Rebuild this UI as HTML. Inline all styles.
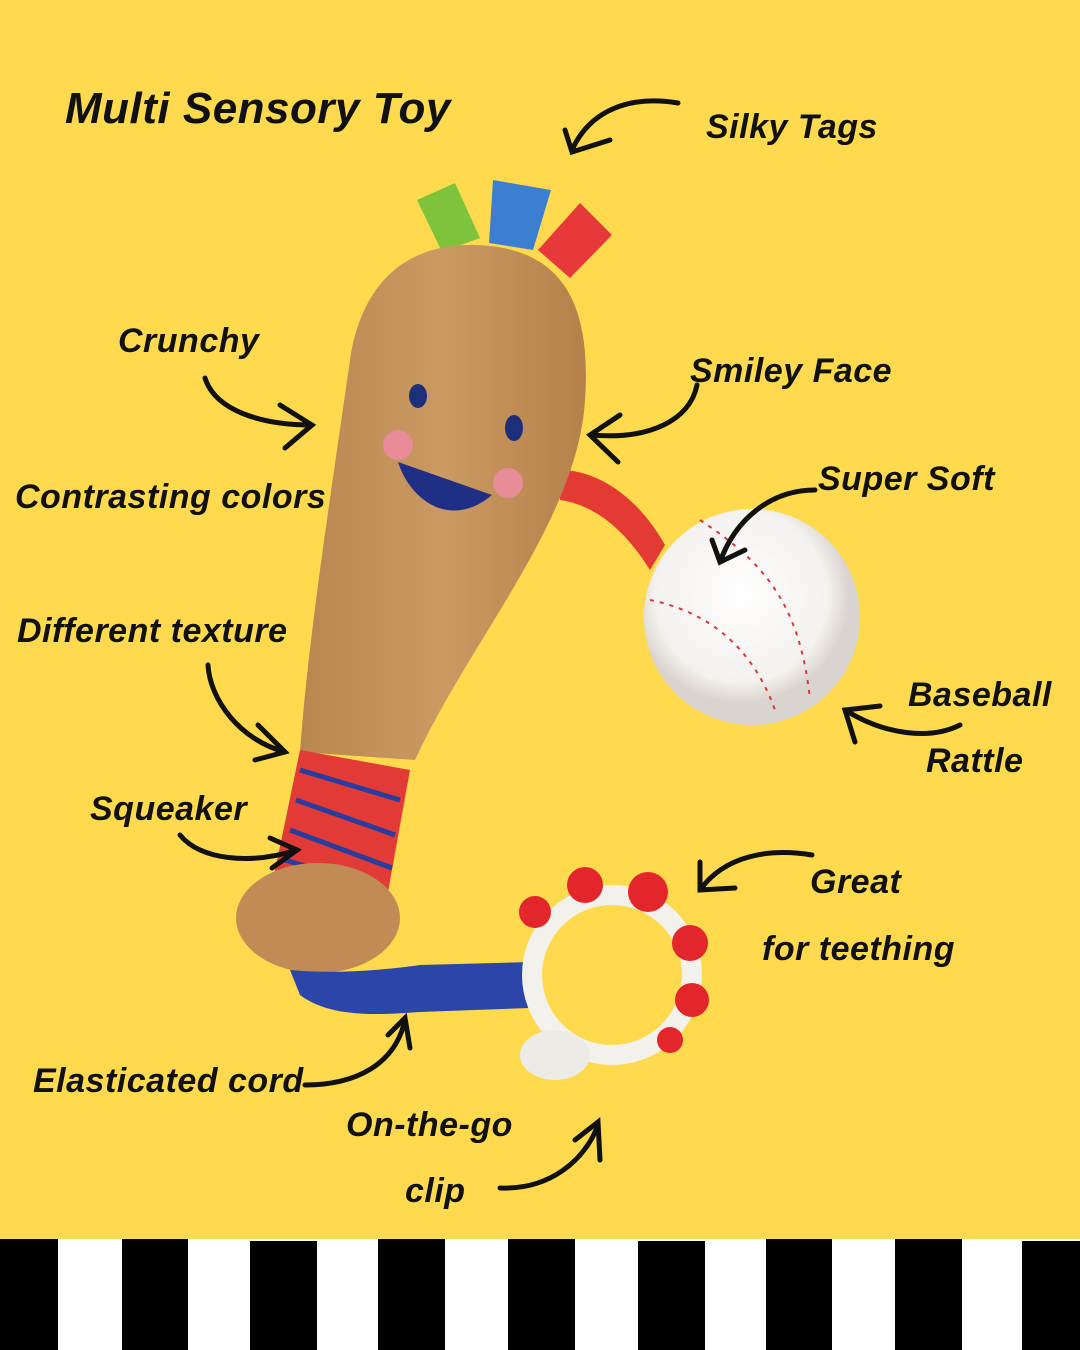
<!DOCTYPE html>
<html><head><meta charset="utf-8"><style>
body{margin:0}
#c{position:relative;width:1080px;height:1350px;background:#FFDA4F;overflow:hidden;font-family:"Liberation Sans",sans-serif}
.t{position:absolute;font-weight:bold;color:#111;font-style:italic;white-space:nowrap;letter-spacing:0.5px}
</style></head><body><div id="c">
<svg width="1080" height="1350" style="position:absolute;left:0;top:0">
<defs>
<linearGradient id="bat" x1="0" x2="1"><stop offset="0" stop-color="#B98650"/><stop offset="0.5" stop-color="#CB9A63"/><stop offset="1" stop-color="#B58049"/></linearGradient>
<radialGradient id="ball" cx="0.45" cy="0.4"><stop offset="0" stop-color="#fff"/><stop offset="0.8" stop-color="#f4f1ee"/><stop offset="1" stop-color="#d9d4cf"/></radialGradient>
<marker id="ah" markerWidth="10" markerHeight="10" refX="5" refY="5" orient="auto"><path d="M0,0 L8,5 L0,10" fill="none" stroke="#111" stroke-width="2"/></marker>
</defs>
<!-- tags -->
<path d="M417,200 L455,183 L480,238 L442,252Z" fill="#7DC43B"/>
<path d="M493,180 L551,190 L533,250 L489,243Z" fill="#3C7FD0"/>
<path d="M538,250 L580,203 L612,235 L570,278Z" fill="#E8393A"/>
<!-- elastic red -->
<path d="M560,470 C600,470 640,500 665,545 L650,570 C625,530 595,505 560,500Z" fill="#E33A33"/>
<!-- ball -->
<circle cx="752" cy="617" r="108" fill="url(#ball)"/>
<path d="M700,520 C760,560 800,600 810,700" fill="none" stroke="#D8383A" stroke-width="2" stroke-dasharray="4 6"/>
<path d="M650,600 C700,610 750,640 775,710" fill="none" stroke="#D8383A" stroke-width="2" stroke-dasharray="4 6"/>
<!-- bat -->
<path d="M470,245 C560,245 592,300 585,400 C578,520 470,640 415,760 L300,752 C308,640 330,500 350,360 C360,290 400,245 470,245Z" fill="url(#bat)"/>
<path d="M300,750 L410,770 L388,892 L272,885Z" fill="#E23A36"/>
<path d="M300,770 L400,800 M296,800 L395,835 M290,830 L392,868 M285,860 L385,890" stroke="#2A3C9E" stroke-width="5"/>
<ellipse cx="318" cy="918" rx="82" ry="55" fill="#C08B55"/>
<!-- face -->
<ellipse cx="418" cy="396" rx="9" ry="12" fill="#1C2F7A"/>
<ellipse cx="514" cy="428" rx="9" ry="13" fill="#1C2F7A"/>
<circle cx="398" cy="445" r="15" fill="#E98C9A"/>
<circle cx="508" cy="483" r="15" fill="#E98C9A"/>
<path d="M398,462 C410,500 450,530 492,495 Z" fill="#1F2F86"/>
<!-- blue band -->
<path d="M290,970 C340,975 400,968 420,965 L530,962 L530,1008 L420,1012 C380,1015 330,1018 300,995Z" fill="#2B45A8"/>
<!-- ring -->
<circle cx="612" cy="975" r="80" fill="none" stroke="#F3F1EC" stroke-width="20"/>
<circle cx="585" cy="885" r="18" fill="#E2262C"/><circle cx="648" cy="892" r="20" fill="#E2262C"/><circle cx="690" cy="943" r="18" fill="#E2262C"/><circle cx="692" cy="1000" r="17" fill="#E2262C"/><circle cx="670" cy="1040" r="13" fill="#E2262C"/><circle cx="535" cy="912" r="16" fill="#E2262C"/>
<ellipse cx="555" cy="1055" rx="35" ry="25" fill="#EDEBE6"/>
<!-- arrows -->
<g fill="none" stroke="#111" stroke-width="5" stroke-linecap="round">
<path d="M678,103 C630,95 590,110 572,150"/><path d="M565,130 L572,152 L610,140"/>
<path d="M205,378 C215,410 260,425 312,425"/><path d="M280,405 L312,425 L285,448"/>
<path d="M697,385 C690,420 650,440 592,435"/><path d="M620,415 L590,435 L618,462"/>
<path d="M815,490 C770,490 735,520 720,562"/><path d="M712,540 L720,562 L745,550"/>
<path d="M208,665 C210,700 240,740 285,752"/><path d="M258,725 L285,752 L255,760"/>
<path d="M960,725 C930,740 885,735 845,710"/><path d="M855,742 L845,710 L880,706"/>
<path d="M180,835 C200,860 250,865 297,850"/><path d="M270,838 L297,850 L272,868"/>
<path d="M812,855 C770,848 725,855 700,890"/><path d="M700,862 L700,890 L735,888"/>
<path d="M305,1085 C355,1085 395,1065 405,1020"/><path d="M388,1035 L405,1018 L410,1048"/>
<path d="M500,1188 C550,1190 585,1160 598,1125"/><path d="M575,1140 L598,1122 L600,1160"/>
</g>
<!-- stripes -->
<rect x="0" y="1239" width="1080" height="111" fill="#fff"/>
<g fill="#000"><rect x="0" y="1239" width="58" height="111"/><rect x="122" y="1239" width="66" height="111"/><rect x="250" y="1241" width="67" height="111"/><rect x="378" y="1239" width="67" height="111"/><rect x="508" y="1239" width="67" height="111"/><rect x="638" y="1241" width="67" height="111"/><rect x="766" y="1239" width="66" height="111"/><rect x="895" y="1239" width="67" height="111"/><rect x="1022" y="1241" width="58" height="111"/></g>
</svg>
<div class="t" style="left:65px;top:84px;font-size:44px">Multi Sensory Toy</div>
<div class="t" style="left:706px;top:108px;font-size:34px">Silky Tags</div>
<div class="t" style="left:118px;top:322px;font-size:34px">Crunchy</div>
<div class="t" style="left:690px;top:352px;font-size:34px">Smiley Face</div>
<div class="t" style="left:15px;top:478px;font-size:34px">Contrasting colors</div>
<div class="t" style="left:818px;top:460px;font-size:34px">Super Soft</div>
<div class="t" style="left:17px;top:612px;font-size:34px">Different texture</div>
<div class="t" style="left:908px;top:676px;font-size:34px">Baseball</div>
<div class="t" style="left:926px;top:742px;font-size:34px">Rattle</div>
<div class="t" style="left:90px;top:790px;font-size:34px">Squeaker</div>
<div class="t" style="left:810px;top:863px;font-size:34px">Great</div>
<div class="t" style="left:762px;top:930px;font-size:34px">for teething</div>
<div class="t" style="left:33px;top:1062px;font-size:34px">Elasticated cord</div>
<div class="t" style="left:346px;top:1106px;font-size:34px">On-the-go</div>
<div class="t" style="left:405px;top:1172px;font-size:34px">clip</div>
</div></body></html>
